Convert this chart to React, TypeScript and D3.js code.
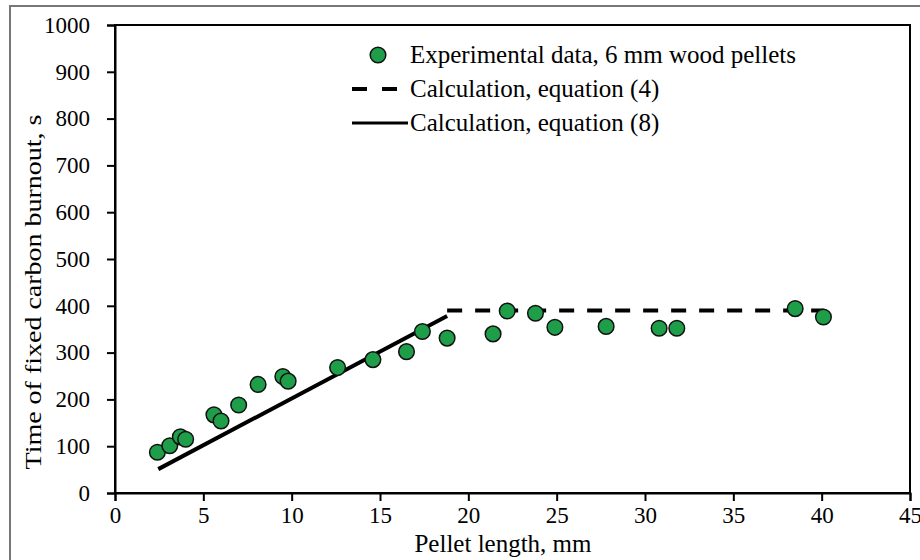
import { useEffect, useRef } from "react"
import * as d3 from "d3"

// pellet length (mm) and fixed carbon burnout time (s)
const expLength = [2.4, 3.1, 3.7, 4.0, 5.6, 6.0, 7.0, 8.1, 9.5, 9.8, 12.6, 14.6, 16.5, 17.4, 18.8, 21.4, 22.2, 23.8, 24.9, 27.8, 30.8, 31.8, 38.5, 40.1]
const expTime = [87, 101, 120, 115, 167, 154, 188, 232, 249, 239, 268, 285, 302, 345, 331, 340, 389, 384, 354, 356, 352, 352, 394, 376]

const eq4Length = [18.8, 40.1]
const eq4Time = [390, 390]

const eq8Length = [2.45, 18.8]
const eq8Time = [51, 378]

const xTicks = [0, 5, 10, 15, 20, 25, 30, 35, 40, 45]
const yTicks = [0, 100, 200, 300, 400, 500, 600, 700, 800, 900, 1000]

const legendLabels = [
  "Experimental data, 6 mm wood pellets",
  "Calculation, equation (4)",
  "Calculation, equation (8)",
]

const W = 920
const H = 560
const FONT = "'Liberation Serif', 'Times New Roman', serif"
const GREEN = "#1f9e4a"

export default function App() {
  const svgRef = useRef<SVGSVGElement>(null)

  useEffect(() => {
    if (!svgRef.current) return
    const margin = { top: 25, right: 10, bottom: 67, left: 115 }
    const innerWidth = W - margin.left - margin.right
    const innerHeight = H - margin.top - margin.bottom

    const root = d3.select(svgRef.current)
    root.selectAll("*").remove()

    // outer gray frame
    root
      .append("rect")
      .attr("x", 10)
      .attr("y", 6)
      .attr("width", 1000)
      .attr("height", 1000)
      .attr("fill", "white")
      .attr("stroke", "#777")
      .attr("stroke-width", 2)

    const svg = root.append("g").attr("transform", `translate(${margin.left},${margin.top})`)

    const x = d3.scaleLinear().domain([0, 45]).range([0, innerWidth])
    const y = d3.scaleLinear().domain([0, 1000]).range([innerHeight, 0])

    // plot frame
    svg
      .append("rect")
      .attr("width", innerWidth)
      .attr("height", innerHeight)
      .attr("fill", "none")
      .attr("stroke", "#000")
      .attr("stroke-width", 2)

    // X axis
    const gx = svg
      .append("g")
      .attr("transform", `translate(0,${innerHeight})`)
      .call(d3.axisBottom(x).tickValues(xTicks).tickSize(8).tickPadding(6).tickFormat(d3.format("d")))
    gx.select(".domain").attr("stroke-width", 2)
    gx.selectAll(".tick line").attr("stroke-width", 2)
    gx.selectAll("text").attr("font-family", FONT).attr("font-size", 23).attr("fill", "#000")

    // Y axis
    const gy = svg
      .append("g")
      .call(d3.axisLeft(y).tickValues(yTicks).tickSize(8).tickPadding(17).tickFormat(d3.format("d")))
    gy.select(".domain").attr("stroke-width", 2)
    gy.selectAll(".tick line").attr("stroke-width", 2)
    gy.selectAll("text").attr("font-family", FONT).attr("font-size", 23).attr("fill", "#000")

    // axis titles
    root
      .append("text")
      .attr("x", 503)
      .attr("y", 552)
      .attr("text-anchor", "middle")
      .attr("font-family", FONT)
      .attr("font-size", 25)
      .text("Pellet length, mm")

    root
      .append("text")
      .attr("transform", `translate(41,292) rotate(-90) scale(1,0.85)`)
      .attr("text-anchor", "middle")
      .attr("font-family", FONT)
      .attr("font-size", 28)
      .text("Time of fixed carbon burnout, s")

    // calculated lines
    const eq8 = eq8Length.map((v, i) => [x(v), y(eq8Time[i])] as [number, number])
    const eq4 = eq4Length.map((v, i) => [x(v), y(eq4Time[i])] as [number, number])

    svg
      .append("path")
      .attr("d", d3.line()(eq8))
      .attr("fill", "none")
      .attr("stroke", "#000")
      .attr("stroke-width", 4)

    svg
      .append("path")
      .attr("d", d3.line()(eq4))
      .attr("fill", "none")
      .attr("stroke", "#000")
      .attr("stroke-width", 4)
      .attr("stroke-dasharray", "15 13")

    // experimental points
    svg
      .selectAll("circle.pt")
      .data(expLength)
      .join("circle")
      .attr("class", "pt")
      .attr("cx", (d) => x(d))
      .attr("cy", (_, i) => y(expTime[i]))
      .attr("r", 7.8)
      .attr("fill", GREEN)
      .attr("stroke", "#111")
      .attr("stroke-width", 1.5)

    // legend
    const lg = root.append("g")
    const rows = [55, 89, 123]
    lg.append("circle")
      .attr("cx", 378)
      .attr("cy", rows[0])
      .attr("r", 7.8)
      .attr("fill", GREEN)
      .attr("stroke", "#111")
      .attr("stroke-width", 1.5)
    lg.append("line")
      .attr("x1", 352)
      .attr("x2", 402)
      .attr("y1", rows[1])
      .attr("y2", rows[1])
      .attr("stroke", "#000")
      .attr("stroke-width", 4)
      .attr("stroke-dasharray", "15 15")
    lg.append("line")
      .attr("x1", 352)
      .attr("x2", 408)
      .attr("y1", rows[2])
      .attr("y2", rows[2])
      .attr("stroke", "#000")
      .attr("stroke-width", 3)
    legendLabels.forEach((label, i) => {
      lg.append("text")
        .attr("x", 410)
        .attr("y", rows[i])
        .attr("dy", "0.33em")
        .attr("font-family", FONT)
        .attr("font-size", 25)
        .text(label)
    })
  }, [])

  return (
    <svg
      ref={svgRef}
      width={W}
      height={H}
      style={{ position: "absolute", left: 0, top: 0, background: "white" }}
    />
  )
}
